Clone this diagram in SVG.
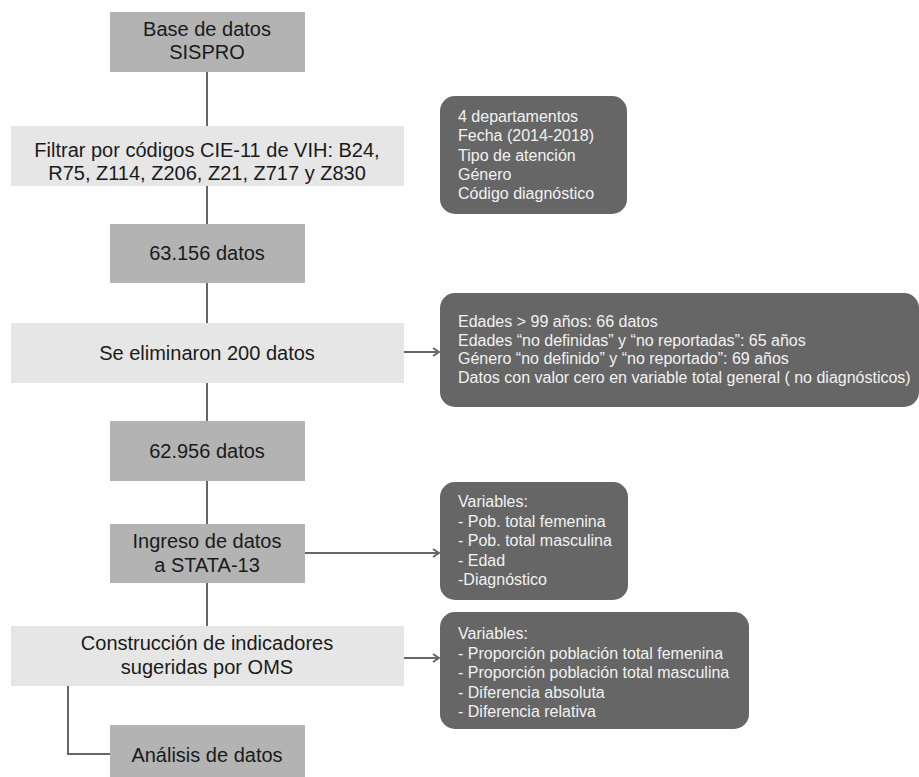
<svg xmlns="http://www.w3.org/2000/svg" width="919" height="777" viewBox="0 0 919 777">
<style>
.mid{fill:#b3b3b3}
.lt{fill:#e6e6e6}
.dk{fill:#666666}
.t{font-family:"Liberation Sans",Arial,Helvetica,sans-serif;font-size:20px;fill:#1a1a1a;text-anchor:middle}
.s{font-family:"Liberation Sans",Arial,Helvetica,sans-serif;font-size:16px;fill:#f2f2f2}
.c{stroke:#666666;stroke-width:2;fill:none}
</style>
<defs>
<marker id="ah" markerWidth="10" markerHeight="10" refX="7" refY="5" orient="auto" markerUnits="userSpaceOnUse">
<path d="M1,1 L7,5 L1,9" fill="none" stroke="#666666" stroke-width="2"/>
</marker>
</defs>
<g id="connectors">
<line class="c" x1="207" y1="72" x2="207" y2="126"/>
<line class="c" x1="207" y1="186" x2="207" y2="224"/>
<line class="c" x1="207" y1="283" x2="207" y2="323"/>
<line class="c" x1="207" y1="383" x2="207" y2="421"/>
<line class="c" x1="207" y1="481" x2="207" y2="524"/>
<line class="c" x1="207" y1="583" x2="207" y2="626"/>
<polyline class="c" points="68,686 68,754 110,754"/>
<line class="c" x1="404" y1="352" x2="439" y2="352" marker-end="url(#ah)"/>
<line class="c" x1="305" y1="553" x2="439" y2="553" marker-end="url(#ah)"/>
<line class="c" x1="404" y1="658" x2="439" y2="658" marker-end="url(#ah)"/>
</g>
<g id="n1">
<rect class="mid" x="110" y="12" width="195" height="60"/>
<text class="t" x="207" y="36">Base de datos</text>
<text class="t" x="207" y="59">SISPRO</text>
</g>
<g id="n2">
<rect class="lt" x="11" y="126" width="393" height="60"/>
<text class="t" x="207" y="157">Filtrar por códigos CIE-11 de VIH: B24,</text>
<text class="t" x="207" y="180">R75, Z114, Z206, Z21, Z717 y Z830</text>
</g>
<g id="n3">
<rect class="mid" x="110" y="224" width="195" height="59"/>
<text class="t" x="207" y="260">63.156 datos</text>
</g>
<g id="n4">
<rect class="lt" x="11" y="323" width="393" height="60"/>
<text class="t" x="207" y="360">Se eliminaron 200 datos</text>
</g>
<g id="n5">
<rect class="mid" x="110" y="421" width="195" height="60"/>
<text class="t" x="207" y="458">62.956 datos</text>
</g>
<g id="n6">
<rect class="mid" x="110" y="524" width="195" height="59"/>
<text class="t" x="207" y="548">Ingreso de datos</text>
<text class="t" x="207" y="572">a STATA-13</text>
</g>
<g id="n7">
<rect class="lt" x="11" y="626" width="393" height="60"/>
<text class="t" x="207" y="650">Construcción de indicadores</text>
<text class="t" x="207" y="674">sugeridas por OMS</text>
</g>
<g id="n8">
<rect class="mid" x="110" y="725" width="195" height="60"/>
<text class="t" x="207" y="762">Análisis de datos</text>
</g>
<g id="nA">
<rect class="dk" x="440" y="96" width="187" height="118" rx="15"/>
<text class="s" x="458" y="122">4 departamentos</text>
<text class="s" x="458" y="141">Fecha (2014-2018)</text>
<text class="s" x="458" y="160.5">Tipo de atención</text>
<text class="s" x="458" y="180">Género</text>
<text class="s" x="458" y="199">Código diagnóstico</text>
</g>
<g id="nB">
<rect class="dk" x="440" y="293" width="479" height="114" rx="15"/>
<text class="s" x="458" y="327">Edades &gt; 99 años: 66 datos</text>
<text class="s" x="458" y="345.5">Edades “no definidas” y “no reportadas”: 65 años</text>
<text class="s" x="458" y="364">Género “no definido” y “no reportado”: 69 años</text>
<text class="s" x="458" y="382.5">Datos con valor cero en variable total general ( no diagnósticos)</text>
</g>
<g id="nC">
<rect class="dk" x="440" y="482" width="188" height="118" rx="15"/>
<text class="s" x="458" y="507">Variables:</text>
<text class="s" x="458" y="526.5">- Pob. total femenina</text>
<text class="s" x="458" y="546">- Pob. total masculina</text>
<text class="s" x="458" y="565.5">- Edad</text>
<text class="s" x="458" y="585">-Diagnóstico</text>
</g>
<g id="nD">
<rect class="dk" x="440" y="612" width="309" height="117" rx="15"/>
<text class="s" x="458" y="639">Variables:</text>
<text class="s" x="458" y="658.5">- Proporción población total femenina</text>
<text class="s" x="458" y="678">- Proporción población total masculina</text>
<text class="s" x="458" y="697.5">- Diferencia absoluta</text>
<text class="s" x="458" y="717">- Diferencia relativa</text>
</g>
</svg>
